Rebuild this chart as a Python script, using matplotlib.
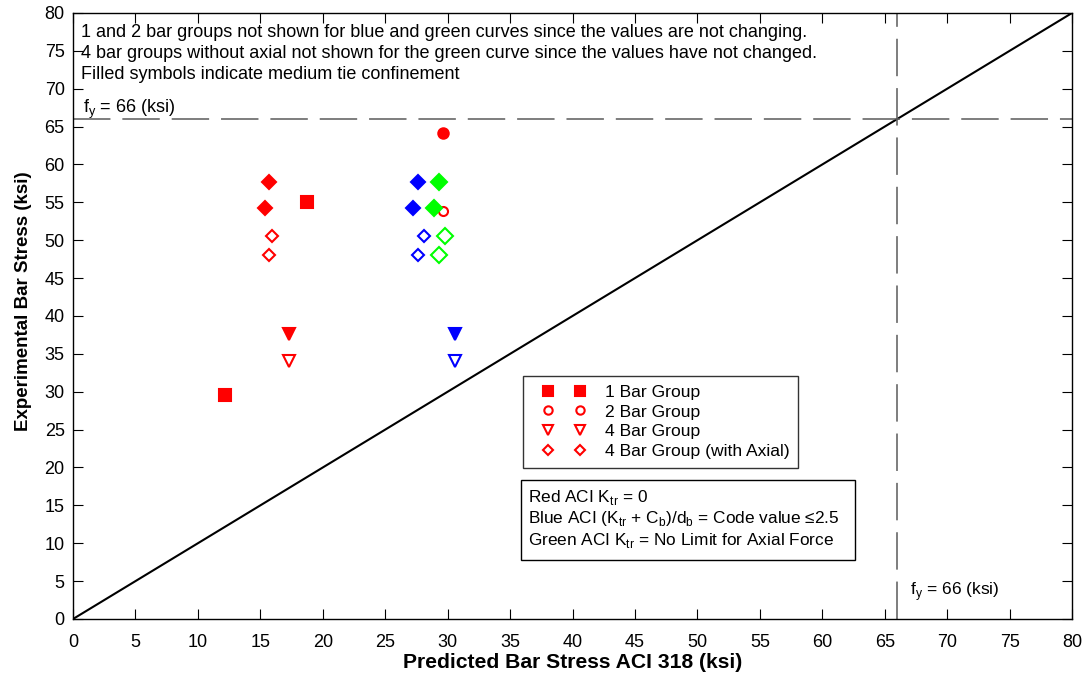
import matplotlib.pyplot as plt
from matplotlib.patches import Rectangle
from matplotlib.legend_handler import HandlerLine2D

plt.rcParams['font.family'] = ['Liberation Sans', 'DejaVu Sans']
plt.rcParams['mathtext.fontset'] = 'custom'
plt.rcParams['mathtext.rm'] = 'Liberation Sans'

RED, BLUE, GREEN = '#ff0000', '#0000ff', '#00ff00'

# точки (ksi)
red_sq_x, red_sq_y = [12.2, 18.7], [29.6, 55.0]
red_circ_f_x, red_circ_f_y = [29.6], [64.2]
red_circ_o_x, red_circ_o_y = [29.6], [53.8]
red_tri_f_x, red_tri_f_y = [17.3], [37.6]
red_tri_o_x, red_tri_o_y = [17.3], [34.1]
red_dia_f_x, red_dia_f_y = [15.7, 15.4], [57.7, 54.2]
red_dia_o_x, red_dia_o_y = [15.9, 15.7], [50.5, 48.1]

blue_tri_f_x, blue_tri_f_y = [30.6], [37.6]
blue_tri_o_x, blue_tri_o_y = [30.6], [34.1]
blue_dia_f_x, blue_dia_f_y = [27.6, 27.2], [57.7, 54.2]
blue_dia_o_x, blue_dia_o_y = [28.1, 27.6], [50.5, 48.1]

green_dia_f_x, green_dia_f_y = [29.3, 28.9], [57.7, 54.2]
green_dia_o_x, green_dia_o_y = [29.8, 29.3], [50.5, 48.1]

fy = 66
ticks = list(range(0, 81, 5))

fig = plt.figure(figsize=(10.87, 6.77), dpi=100)
ax = fig.add_axes([0.0672, 0.0857, 0.9190, 0.8951])

ax.plot([0, 80], [0, 80], color='black', lw=1.5, zorder=1)
ax.plot([0, 80], [fy, fy], color='#5a5a5a', lw=1.1, dashes=(24.5, 7.8), zorder=1)
ax.plot([fy, fy], [0, 80], color='#5a5a5a', lw=1.1, dashes=(24.5, 7.8), zorder=1)

def pts(x, y, m, c, filled, size):
    ax.plot(x, y, ls='none', marker=m, ms=size, mec=c, mew=1.5,
            mfc=c if filled else 'white', zorder=3)

pts(red_sq_x, red_sq_y, 's', RED, True, 8.5)
pts(red_circ_f_x, red_circ_f_y, 'o', RED, True, 7.5)
pts(red_circ_o_x, red_circ_o_y, 'o', RED, False, 6.5)
pts(red_tri_f_x, red_tri_f_y, 'v', RED, True, 9)
pts(red_tri_o_x, red_tri_o_y, 'v', RED, False, 8)
pts(red_dia_f_x, red_dia_f_y, 'D', RED, True, 7)
pts(red_dia_o_x, red_dia_o_y, 'D', RED, False, 6.5)
pts(blue_tri_f_x, blue_tri_f_y, 'v', BLUE, True, 9)
pts(blue_tri_o_x, blue_tri_o_y, 'v', BLUE, False, 8)
pts(blue_dia_f_x, blue_dia_f_y, 'D', BLUE, True, 7)
pts(blue_dia_o_x, blue_dia_o_y, 'D', BLUE, False, 6.5)
pts(green_dia_f_x, green_dia_f_y, 'D', GREEN, True, 8.5)
pts(green_dia_o_x, green_dia_o_y, 'D', GREEN, False, 8)

# легенда (только красные маркеры, по два в строке)
h = []
for m, f, s, lab in [('s', True, 7, '1 Bar Group'), ('o', False, 6, '2 Bar Group'),
                     ('v', False, 7, '4 Bar Group'), ('D', False, 5.5, '4 Bar Group (with Axial)')]:
    h += ax.plot([], [], ls='none', marker=m, ms=s, mec=RED, mew=1.5,
                 mfc=RED if f else 'white', label=lab)
leg = ax.legend(handles=h, loc='upper left', bbox_to_anchor=(0.4505, 0.401), numpoints=2,
                frameon=True, fancybox=False, edgecolor='black', borderaxespad=0,
                borderpad=0.5, labelspacing=0.25, handlelength=3.66, handletextpad=0.5,
                handler_map={l: HandlerLine2D(marker_pad=0.91) for l in h},
                prop={'family': 'Liberation Sans', 'size': 12.6})
leg.get_frame().set_linewidth(1.0)

ax.text(0.8, 67.3, 'f$_\\mathregular{y}$ = 66 (ksi)', fontsize=13, va='center', ha='left')
ax.text(67.0, 3.6, 'f$_\\mathregular{y}$ = 66 (ksi)', fontsize=12.5, va='center', ha='left')

ax.text(0.6, 78.5, '1 and 2 bar groups not shown for blue and green curves since the values are not changing.\n'
        '4 bar groups without axial not shown for the green curve since the values have not changed.\n'
        'Filled symbols indicate medium tie confinement',
        fontsize=13, va='top', ha='left', linespacing=1.3)

# рамка с пояснением цветов
ax.add_patch(Rectangle((0.4484, 0.0974), 0.3344, 0.132, transform=ax.transAxes,
                       fc='white', ec='black', lw=1.0, zorder=4))
ax.text(0.4555, 0.2155,
        'Red ACI K$_\\mathregular{tr}$ = 0\n'
        'Blue ACI (K$_\\mathregular{tr}$ + C$_\\mathregular{b}$)/d$_\\mathregular{b}$ = Code value ≤2.5\n'
        'Green ACI K$_\\mathregular{tr}$ = No Limit for Axial Force',
        transform=ax.transAxes, fontsize=12.4, va='top', ha='left', linespacing=1.15, zorder=5)

ax.set_xlim(0, 80)
ax.set_ylim(0, 80)
ax.set_xticks(ticks)
ax.set_yticks(ticks)
ax.tick_params(direction='in', top=True, right=True, length=7, labelsize=13, width=0.8)
ax.tick_params(axis='x', pad=11)
ax.tick_params(axis='y', pad=6)
for s in ax.spines.values():
    s.set_linewidth(1.0)

ax.set_xlabel('Predicted Bar Stress ACI 318 (ksi)', fontsize=15.2, fontweight='bold', labelpad=1)
ax.set_ylabel('Experimental Bar Stress (ksi)', fontsize=13.5, fontweight='bold')
ax.yaxis.set_label_coords(-0.041, 0.525)

fig.savefig('out.png', dpi=100)
